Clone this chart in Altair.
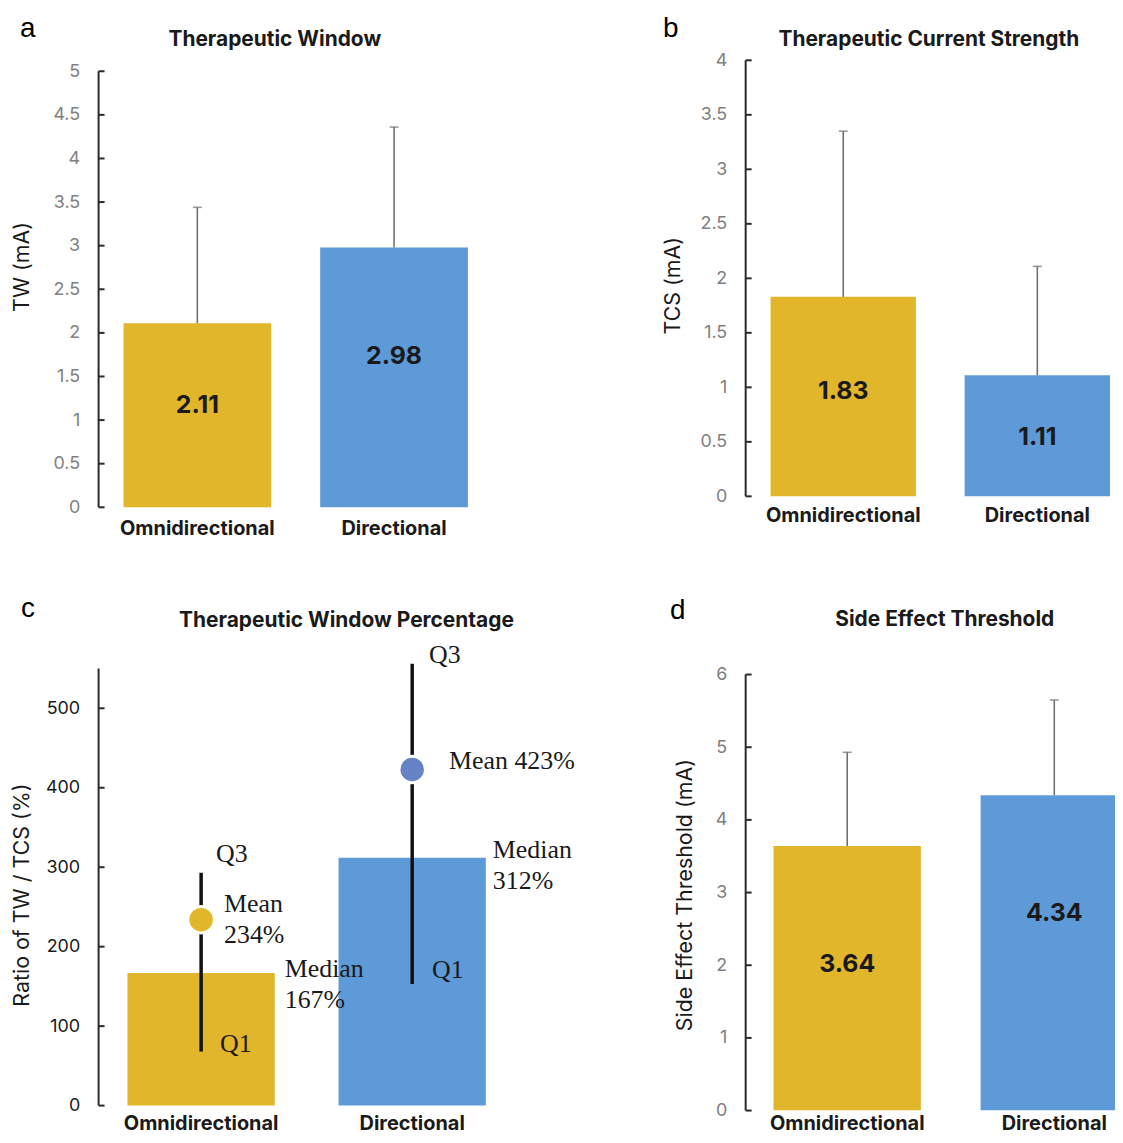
import altair as alt
import pandas as pd

# ---------------- data ----------------
CATEGORIES = ["Omnidirectional", "Directional"]

TW_MEAN = [2.11, 2.98]
TW_SD = [1.33, 1.38]

TCS_MEAN = [1.83, 1.11]
TCS_SD = [1.52, 1.00]

SET_MEAN = [3.64, 4.34]
SET_SD = [1.29, 1.31]

TWP_MEDIAN = [167, 312]
TWP_MEAN = [234, 423]
TWP_Q1 = [68, 153]
TWP_Q3 = [293, 556]

TW_TICKS = [0, 0.5, 1, 1.5, 2, 2.5, 3, 3.5, 4, 4.5, 5]
TCS_TICKS = [0, 0.5, 1, 1.5, 2, 2.5, 3, 3.5, 4]
SET_TICKS = [0, 1, 2, 3, 4, 5, 6]
TWP_TICKS = [0, 100, 200, 300, 400, 500]

# ---------------- style ----------------
SANS = "Inter"
LETTER_FONT = "Liberation Sans"
SERIF = "Liberation Serif"
GOLD = "#E2B62B"
BLUE = "#5E99D8"
MEAN_DOT = ["#E2B62B", "#6683C6"]
AXIS_COLOR = "#2a2a2a"
ERR_COLOR = "#707070"
TEXT = "#1a1a1a"


def x_axis(pad):
    return alt.Axis(title=None, domain=False, ticks=False, tickSize=0, labelAngle=0,
                    labelFont=SANS, labelFontWeight="bold", labelFontSize=20,
                    labelColor=TEXT, labelPadding=pad, labelBaseline="alphabetic")


def y_axis(title, ticks, label_color, tx, ty, fmt):
    return alt.Axis(values=ticks, format=fmt, domain=False, ticks=False, tickSize=0,
                    grid=False, labelFont=SANS, labelFontSize=18, labelColor=label_color,
                    labelPadding=19, title=title, titleFont=SANS, titleFontSize=21.5,
                    titleFontWeight="normal", titleColor=TEXT, titleAngle=270,
                    titleX=tx, titleY=ty, titleAlign="center", titleBaseline="middle")


def decorations(ticks, axis_top, yscale, yax, letter, letter_xy, title, title_xy):
    axis_df = pd.DataFrame({"lo": [0], "hi": [axis_top]})
    line = alt.Chart(axis_df).mark_rule(color=AXIS_COLOR, strokeWidth=2).encode(
        x=alt.value(0), y=alt.Y("lo:Q", scale=yscale, axis=yax), y2="hi:Q")
    tick_df = pd.DataFrame({"t": ticks})
    tk = alt.Chart(tick_df).mark_rule(color=AXIS_COLOR, strokeWidth=2).encode(
        y=alt.Y("t:Q", scale=yscale, axis=yax), x=alt.value(0), x2=alt.value(6))
    one = pd.DataFrame({"k": [0]})
    let = alt.Chart(one).mark_text(text=letter, font=LETTER_FONT, fontSize=28, color="#000000",
                                   align="left", baseline="alphabetic").encode(
        x=alt.value(letter_xy[0]), y=alt.value(letter_xy[1]))
    ttl = alt.Chart(one).mark_text(text=title, font=SANS, fontSize=21, fontWeight="bold",
                                   color=TEXT, align="center", baseline="alphabetic").encode(
        x=alt.value(title_xy[0]), y=alt.value(title_xy[1]))
    return [line, tk, let, ttl]


def bar_panel(letter, title, ytitle, means, sds, ticks, ymax, width, height, xrange,
              pinner, xlabel_pad, label_frac, letter_xy, title_xy, ytitle_xy, clip=False):
    df = pd.DataFrame({"cat": CATEGORIES, "value": means, "sd": sds, "frac": label_frac})
    xscale = alt.Scale(domain=CATEGORIES, range=xrange, paddingInner=pinner, paddingOuter=0)
    yscale = alt.Scale(domain=[0, ymax], nice=False, zero=True)
    xax = x_axis(xlabel_pad)
    yax = y_axis(ytitle, ticks, "#808080", ytitle_xy[0], ytitle_xy[1], "~g")
    X = alt.X("cat:N", sort=CATEGORIES, scale=xscale, axis=xax)
    base = alt.Chart(df)
    bars = base.mark_bar(clip=clip).encode(
        x=X,
        y=alt.Y("value:Q", scale=yscale, axis=yax),
        color=alt.Color("cat:N", scale=alt.Scale(domain=CATEGORIES, range=[GOLD, BLUE]),
                        legend=None),
    )
    withtop = base.transform_calculate(top="datum.value + datum.sd")
    err = withtop.mark_rule(color=ERR_COLOR, strokeWidth=1.6).encode(
        x=X, y=alt.Y("value:Q", scale=yscale, axis=yax), y2="top:Q")
    cap = withtop.mark_tick(color=ERR_COLOR, thickness=1.6, size=9, orient="horizontal").encode(
        x=X, y=alt.Y("top:Q", scale=yscale, axis=yax))
    lab = base.transform_calculate(
        ly="datum.value * datum.frac", txt="format(datum.value, '.2f')"
    ).mark_text(font=SANS, fontWeight="bold", fontSize=25, color=TEXT, baseline="middle").encode(
        x=X, y=alt.Y("ly:Q", scale=yscale, axis=yax), text="txt:N")
    deco = decorations(ticks, ticks[-1], yscale, yax, letter, letter_xy, title, title_xy)
    return alt.layer(bars, err, cap, lab, *deco).properties(width=width, height=height)


def twp_panel():
    df = pd.DataFrame({"cat": CATEGORIES, "median": TWP_MEDIAN, "mean": TWP_MEAN,
                       "q1": TWP_Q1, "q3": TWP_Q3})
    xscale = alt.Scale(domain=CATEGORIES, range=[29, 389], paddingInner=0.302, paddingOuter=0)
    yscale = alt.Scale(domain=[0, 550], nice=False, zero=True)
    xax = x_axis(24)
    yax = y_axis("Ratio of TW / TCS (%)", TWP_TICKS, TEXT, -76, 227, "d")
    X = alt.X("cat:N", sort=CATEGORIES, scale=xscale, axis=xax)
    base = alt.Chart(df)
    bars = base.mark_bar().encode(
        x=X,
        y=alt.Y("median:Q", scale=yscale, axis=yax),
        color=alt.Color("cat:N", scale=alt.Scale(domain=CATEGORIES, range=[GOLD, BLUE]),
                        legend=None),
    )
    iqr = base.mark_rule(color="#111111", strokeWidth=3.5).encode(
        x=X, y=alt.Y("q1:Q", scale=yscale, axis=yax), y2="q3:Q")
    dots = base.mark_circle(size=707, opacity=1, stroke="white", strokeWidth=3).encode(
        x=X, y=alt.Y("mean:Q", scale=yscale, axis=yax),
        fill=alt.Fill("cat:N", scale=alt.Scale(domain=CATEGORIES, range=MEAN_DOT), legend=None))

    def ann(idx, value, text, dx, dy):
        d = pd.DataFrame({"cat": [CATEGORIES[idx]], "v": [value]})
        return alt.Chart(d).mark_text(text=text, font=SERIF, fontSize=26, color=TEXT,
                                      align="left", baseline="alphabetic", dx=dx, dy=dy,
                                      lineHeight=31).encode(
            x=X, y=alt.Y("v:Q", scale=yscale, axis=yax))

    anns = [
        ann(0, TWP_Q3[0], "Q3", 15, -11),
        ann(1, TWP_Q3[1], "Q3", 17, -1),
        ann(0, TWP_MEAN[0], ["Mean", f"{TWP_MEAN[0]}%"], 23, -8),
        ann(1, TWP_MEAN[1], f"Mean {TWP_MEAN[1]}%", 37, 0),
        ann(0, TWP_MEDIAN[0], ["Median", f"{TWP_MEDIAN[0]}%"], 84, 4),
        ann(1, TWP_MEDIAN[1], ["Median", f"{TWP_MEDIAN[1]}%"], 81, 0),
        ann(0, TWP_Q1[0], "Q1", 19, 0),
        ann(1, TWP_Q1[1], "Q1", 20, -6),
    ]
    deco = decorations(TWP_TICKS, 550, yscale, yax, "c", (-78, -52),
                       "Therapeutic Window Percentage", (249, -42))
    return alt.layer(bars, iqr, dots, *anns, *deco).properties(width=391, height=439)


panel_a = bar_panel("a", "Therapeutic Window", "TW (mA)", TW_MEAN, TW_SD, TW_TICKS,
                    5 + 11 / 87.6, 396, 449, [25, 371], 0.249, 27, [0.557, 0.582],
                    (-79, -23), (177, -14), (-76, 207))
panel_b = bar_panel("b", "Therapeutic Current Strength", "TCS (mA)", TCS_MEAN, TCS_SD,
                    TCS_TICKS, 4, 366, 438, [25, 366], 0.251, 25, [0.529, 0.494],
                    (-83, -23), (184, -14), (-72, 226))
panel_c = twp_panel()
panel_d = bar_panel("d", "Side Effect Threshold", "Side Effect Threshold (mA)", SET_MEAN,
                    SET_SD, SET_TICKS, 6 + 6 / 73, 371, 444, [28, 384], 0.2885, 19,
                    [0.553, 0.625], (-76, -50), (200, -43), (-60, 227), clip=True)

chart = alt.concat(
    panel_a, panel_b, panel_c, panel_d,
    columns=2,
    spacing={"row": 162, "column": 254},
    bounds="flush",
    align={"row": "all", "column": "none"},
).properties(
    padding={"left": 4, "top": 5, "right": 0, "bottom": 0},
    background="white",
).configure_view(stroke=None)

chart.save("out.html", embed_options={"renderer": "svg", "actions": False})
